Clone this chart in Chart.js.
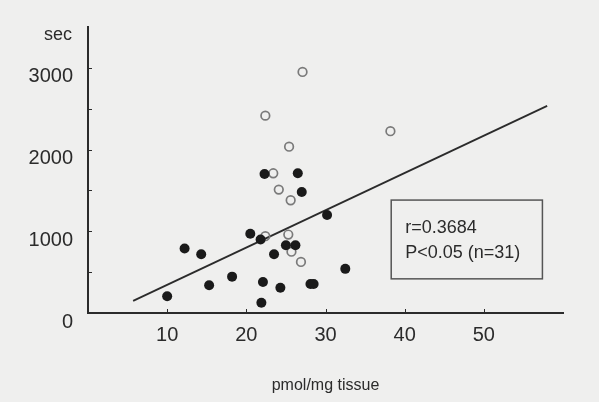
<!DOCTYPE html>
<html><head><meta charset="utf-8">
<script src="https://cdn.jsdelivr.net/npm/chart.js@4/dist/chart.umd.min.js"></script>
<style>html,body{margin:0;padding:0;background:#efefee;}#wrap{width:599px;height:402px;}</style>
</head><body><div id="wrap"><canvas id="c" width="599" height="402"></canvas></div>
<script>
// Filled circles
const filledX = [10.0, 12.2, 14.3, 15.3, 18.2, 20.5, 21.8, 22.1, 21.9, 22.3, 23.5, 24.3, 25.0, 26.2, 26.5, 27.0, 28.1, 28.5, 30.2, 32.5];
const filledY = [205, 790, 720, 340, 445, 970, 900, 380, 125, 1700, 720, 310, 830, 830, 1710, 1480, 355, 355, 1200, 540];
// Open circles
const openX = [27.1, 22.4, 25.4, 23.4, 24.1, 25.6, 22.4, 25.3, 25.7, 26.9, 38.2];
const openY = [2950, 2415, 2035, 1710, 1510, 1380, 940, 960, 750, 625, 2225];
// Regression line end points
const fitX = [5.7, 58.0];
const fitY = [148, 2534];
// Axis ticks / labels
const xTickLabels = [10, 20, 30, 40, 50];
const yTickLabels = [0, 1000, 2000, 3000];
const yUnit = 'sec';
const xTitle = 'pmol/mg tissue';
const statLines = ['r=0.3684', 'P<0.05 (n=31)'];

const toPts = (xs, ys) => xs.map((x, i) => ({x: x, y: ys[i]}));
const FONT = "'Liberation Sans', Arial, sans-serif";
const INK = '#2b2b2b';
const BG = '#efefee';

const decor = {
  id: 'decor',
  beforeDraw(chart) {
    const c = chart.ctx;
    c.save(); c.fillStyle = BG; c.fillRect(0, 0, chart.width, chart.height); c.restore();
  },
  afterDraw(chart) {
    const c = chart.ctx, x = chart.scales.x, y = chart.scales.y;
    c.save();
    c.strokeStyle = INK; c.lineWidth = 1;
    y.ticks.forEach(t => {
      if (t.value <= 0 || t.value >= y.max) return;
      const py = Math.round(y.getPixelForValue(t.value)) + 0.5;
      c.beginPath(); c.moveTo(x.left, py); c.lineTo(x.left + 4, py); c.stroke();
    });
    xTickLabels.forEach(v => {
      const px = Math.round(x.getPixelForValue(v)) + 0.5;
      c.beginPath(); c.moveTo(px, y.bottom); c.lineTo(px, y.bottom - 4); c.stroke();
    });
    // unit label
    c.fillStyle = INK;
    c.font = '18px ' + FONT;
    c.textAlign = 'right'; c.textBaseline = 'middle';
    c.fillText(yUnit, x.left - 16, 35);
    // stats box
    const bx0 = x.getPixelForValue(38.3), bx1 = x.getPixelForValue(57.4);
    const by0 = y.getPixelForValue(1382), by1 = y.getPixelForValue(418);
    c.strokeStyle = '#555'; c.lineWidth = 1.5;
    c.strokeRect(bx0, by0, bx1 - bx0, by1 - by0);
    c.font = '18px ' + FONT;
    c.textAlign = 'left';
    c.fillText(statLines[0], bx0 + 14, by0 + 28);
    c.fillText(statLines[1], bx0 + 14, by0 + 53);
    c.restore();
  }
};

new Chart(document.getElementById('c'), {
  type: 'scatter',
  data: {
    datasets: [
      {label: 'fit', type: 'line', data: toPts(fitX, fitY), borderColor: INK, borderWidth: 1.8, pointRadius: 0, fill: false, order: 3},
      {label: 'filled', data: toPts(filledX, filledY), pointRadius: 5, backgroundColor: '#1a1a1a', borderColor: '#1a1a1a', borderWidth: 0, order: 1},
      {label: 'open', data: toPts(openX, openY), pointRadius: 4.3, backgroundColor: 'rgba(0,0,0,0)', borderColor: '#7a7a7a', borderWidth: 1.7, order: 2}
    ]
  },
  options: {
    responsive: false, animation: false, devicePixelRatio: 1,
    layout: {padding: {left: 28, right: 36, top: 23, bottom: 0}},
    plugins: {legend: {display: false}, tooltip: {enabled: false}},
    scales: {
      x: {
        type: 'linear', min: 0, max: 60,
        grid: {display: false, drawTicks: false},
        border: {display: true, color: INK, width: 2},
        ticks: {stepSize: 10, padding: 10, autoSkip: false, maxRotation: 0, color: INK,
          font: {family: FONT, size: 20},
          callback: v => xTickLabels.includes(v) ? String(v) : ''},
        title: {display: true, text: xTitle, color: INK, font: {family: FONT, size: 16}, padding: {top: 0, bottom: 7}},
        afterFit: s => { s.height = 89; }
      },
      y: {
        type: 'linear', min: 0, max: 3500,
        grid: {display: false, drawTicks: false},
        border: {display: true, color: INK, width: 2},
        ticks: {stepSize: 500, padding: 15, labelOffset: 9, autoSkip: false, color: INK,
          font: {family: FONT, size: 20},
          callback: v => yTickLabels.includes(v) ? String(v) : ''},
        afterFit: s => { s.width = 60; }
      }
    }
  },
  plugins: [decor]
});
</script>
</body></html>
